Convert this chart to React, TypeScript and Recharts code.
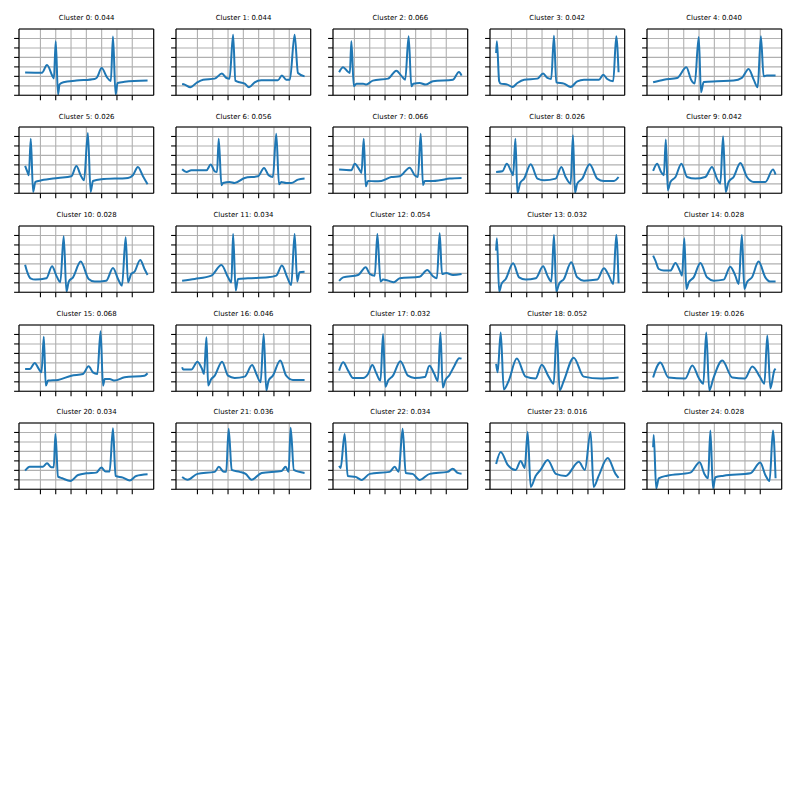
import React from 'react';
import { LineChart, Line, XAxis, YAxis, CartesianGrid } from 'recharts';

type Pt = [number, number];

// share of each cluster (title number)
const shares = [
  0.044, 0.044, 0.066, 0.042, 0.04,
  0.026, 0.056, 0.066, 0.026, 0.042,
  0.028, 0.034, 0.054, 0.032, 0.028,
  0.068, 0.046, 0.032, 0.052, 0.026,
  0.034, 0.036, 0.034, 0.016, 0.028,
];

// waveforms in grid units (x: 0..8, y: 0..7)
const c0: Pt[] = [[0,2.4],[1.1,2.38],[1.43,3.2],[1.78,2.05],[1.88,1.78],[2.0,5.7],[2.15,0.07],[2.25,1.15],[2.5,1.37],[3.35,1.55],[4.54,1.73],[4.7,1.9],[5.0,2.88],[5.35,1.9],[5.6,1.5],[5.74,6.22],[5.91,0.07],[6.04,1.3],[6.5,1.42],[8.0,1.55]];
const c1: Pt[] = [[0,1.2],[0.17,1.13],[0.54,0.85],[0.93,1.3],[1.37,1.65],[2.13,1.76],[2.6,2.29],[2.9,1.83],[3.1,1.76],[3.33,6.4],[3.48,1.55],[3.76,1.37],[4.09,1.23],[4.37,0.85],[4.74,1.37],[5.17,1.58],[6.26,1.58],[6.52,2.1],[6.8,1.65],[7.04,1.65],[7.35,6.4],[7.57,2.36],[8.0,2.0]];
const c2: Pt[] = [[0,2.43],[0.26,2.96],[0.54,2.54],[0.7,2.36],[0.8,5.7],[0.96,0.95],[1.13,1.23],[1.57,1.23],[1.78,1.13],[2.2,1.55],[3.2,1.76],[3.74,2.6],[4.07,2.05],[4.32,1.65],[4.54,6.23],[4.72,0.95],[4.85,1.23],[5.26,1.3],[5.65,1.13],[6.13,1.48],[7.44,1.65],[7.83,2.46],[8.0,2.08]];
const c3: Pt[] = [[0,4.47],[0.05,5.7],[0.2,1.48],[0.3,1.23],[0.74,1.13],[1.07,0.88],[1.39,1.3],[1.83,1.65],[2.7,1.76],[3.07,2.29],[3.35,1.83],[3.6,1.72],[3.78,6.3],[3.93,1.37],[4.43,1.23],[4.87,0.88],[5.3,1.48],[5.74,1.65],[6.72,1.65],[7.0,2.18],[7.26,1.72],[7.65,1.48],[7.85,6.23],[8.0,2.43]];
const c4: Pt[] = [[0,1.37],[0.7,1.65],[1.57,1.83],[2.17,2.96],[2.48,1.65],[2.72,1.25],[2.98,6.16],[3.13,0.32],[3.3,1.4],[4.17,1.48],[5.26,1.55],[5.8,1.83],[6.24,2.78],[6.57,1.65],[6.83,0.85],[7.04,6.23],[7.22,2.0],[7.43,2.1],[8.0,2.08]];
const c5: Pt[] = [[0,2.89],[0.15,2.25],[0.24,1.9],[0.37,5.77],[0.52,0.14],[0.67,1.2],[1.07,1.37],[2.15,1.62],[3.02,1.8],[3.35,2.89],[3.63,1.9],[3.85,1.37],[4.1,6.37],[4.28,0.14],[4.43,1.3],[4.98,1.48],[6.72,1.62],[7.04,1.9],[7.37,2.78],[7.7,1.8],[8.0,0.95]];
const c6: Pt[] = [[0,2.54],[0.28,2.25],[0.6,2.43],[1.59,2.43],[1.87,3.03],[2.13,2.32],[2.28,2.25],[2.39,5.77],[2.57,0.85],[2.67,1.09],[3.11,1.2],[3.43,1.09],[4.09,1.62],[4.96,1.8],[5.35,2.68],[5.65,1.9],[5.93,1.72],[6.15,6.3],[6.33,0.95],[6.48,1.2],[6.8,1.09],[7.13,1.09],[7.57,1.44],[8.0,1.55]];
const c7: Pt[] = [[0,2.5],[0.8,2.43],[1.02,3.13],[1.35,2.43],[1.46,2.15],[1.61,5.77],[1.74,0.74],[1.89,1.3],[2.33,1.27],[2.76,1.3],[3.41,1.72],[3.96,1.8],[4.61,2.71],[4.94,1.9],[5.15,1.72],[5.33,6.3],[5.48,0.85],[5.59,1.3],[6.13,1.3],[6.57,1.37],[7.22,1.55],[8.0,1.62]];
const c8: Pt[] = [[0,2.25],[0.41,2.32],[0.7,3.13],[1.0,2.25],[1.11,1.9],[1.26,5.77],[1.39,0.04],[1.57,1.09],[1.83,1.55],[2.26,3.06],[2.7,1.55],[3.13,1.37],[3.89,1.55],[4.26,2.78],[4.54,1.72],[4.87,1.02],[5.02,6.13],[5.15,0.04],[5.3,1.02],[5.63,1.55],[6.11,3.06],[6.61,1.55],[7.04,1.3],[7.7,1.3],[8.0,1.72]];
const c9: Pt[] = [[0,2.36],[0.26,3.13],[0.52,2.25],[0.7,1.9],[0.83,5.67],[0.96,0.32],[1.13,1.2],[1.46,1.72],[1.85,3.13],[2.22,1.72],[2.76,1.55],[3.41,1.72],[3.85,2.78],[4.17,1.55],[4.39,1.02],[4.57,6.02],[4.74,0.14],[4.93,1.2],[5.26,1.72],[5.7,3.2],[6.13,1.72],[6.57,1.2],[7.33,1.2],[7.83,2.5],[8.0,1.97]];
const c10: Pt[] = [[0,2.92],[0.13,2.18],[0.35,1.48],[0.67,1.34],[1.39,1.48],[1.76,2.75],[2.04,1.76],[2.3,1.06],[2.52,5.92],[2.7,0.07],[2.85,1.13],[3.13,1.58],[3.63,3.24],[4.15,1.41],[4.54,1.13],[5.3,1.23],[5.74,2.57],[6.07,1.41],[6.33,0.7],[6.57,5.81],[6.72,1.06],[6.93,1.94],[7.15,2.18],[7.52,3.42],[7.8,2.46],[8.0,1.83]];
const c11: Pt[] = [[0,1.23],[0.83,1.41],[1.91,1.76],[2.57,2.89],[3.0,1.58],[3.22,1.06],[3.33,6.16],[3.5,0.18],[3.65,1.41],[4.3,1.48],[5.61,1.58],[6.15,1.76],[6.52,2.82],[6.87,1.58],[7.13,0.77],[7.35,6.16],[7.52,1.13],[7.67,2.11],[8.0,2.18]];
const c12: Pt[] = [[0,1.2],[0.26,1.58],[1.24,1.83],[1.74,2.64],[2.0,1.94],[2.33,1.76],[2.5,6.16],[2.7,1.13],[2.87,1.34],[3.2,1.23],[3.57,1.06],[3.96,1.48],[5.26,1.65],[5.76,2.36],[6.13,1.69],[6.39,1.48],[6.57,6.23],[6.72,1.94],[7.0,2.04],[7.44,1.83],[8.0,1.94]];
const c13: Pt[] = [[0,4.4],[0.05,5.7],[0.2,0.05],[0.35,0.88],[0.63,1.41],[1.11,3.06],[1.5,1.58],[1.93,1.34],[2.59,1.48],[3.07,2.75],[3.35,1.76],[3.61,1.13],[3.78,6.06],[3.93,0.05],[4.11,0.88],[4.43,1.41],[4.91,3.17],[5.3,1.58],[5.74,1.23],[6.61,1.34],[7.04,2.54],[7.37,1.76],[7.65,0.88],[7.85,6.06],[8.0,0.95]];
const c14: Pt[] = [[0,3.87],[0.15,3.34],[0.37,2.46],[0.7,2.29],[1.13,2.29],[1.46,3.1],[1.74,2.29],[1.89,1.76],[2.04,5.7],[2.17,0.35],[2.33,1.06],[2.65,1.58],[3.09,3.1],[3.52,1.58],[3.96,1.23],[4.61,1.34],[5.04,2.71],[5.37,1.76],[5.59,0.88],[5.8,6.06],[5.96,0.35],[6.13,1.06],[6.46,1.58],[6.89,3.24],[7.33,1.58],[7.65,1.13],[8.0,1.13]];
const c15: Pt[] = [[0,2.36],[0.3,2.36],[0.63,3.0],[0.89,2.36],[1.07,2.0],[1.22,5.77],[1.35,0.6],[1.5,1.13],[2.15,1.2],[3.02,1.65],[3.78,1.83],[4.15,2.64],[4.43,2.0],[4.72,1.83],[4.93,6.34],[5.09,0.6],[5.2,1.3],[5.52,1.3],[5.85,1.13],[6.5,1.48],[7.8,1.65],[8.0,1.9]];
const c16: Pt[] = [[0,2.54],[0.07,2.29],[0.6,2.29],[1.0,3.13],[1.3,2.36],[1.43,1.83],[1.59,5.7],[1.7,0.6],[1.87,1.2],[2.13,1.65],[2.61,3.13],[3.0,1.65],[3.43,1.41],[4.09,1.55],[4.57,2.78],[4.85,1.83],[5.13,0.95],[5.33,6.06],[5.5,0.07],[5.65,1.13],[5.93,1.65],[6.41,3.24],[6.8,1.65],[7.24,1.2],[8.0,1.2]];
const c17: Pt[] = [[0,2.18],[0.26,3.06],[0.59,2.18],[0.91,1.41],[1.57,1.41],[1.89,1.83],[2.17,2.78],[2.43,1.9],[2.7,1.13],[2.87,6.06],[3.02,0.49],[3.2,1.13],[3.52,1.65],[4.0,3.17],[4.5,1.65],[4.93,1.41],[5.6,1.5],[5.9,2.7],[6.2,1.9],[6.45,1.1],[6.62,6.2],[6.77,0.4],[6.95,1.2],[7.2,1.7],[7.5,2.6],[7.85,3.5],[8.0,3.45]];
const c18: Pt[] = [[0,2.9],[0.1,2.0],[0.3,6.2],[0.5,0.2],[0.82,1.1],[1.35,3.45],[1.93,1.55],[2.58,1.35],[2.98,2.8],[3.43,1.55],[3.76,0.8],[3.96,6.4],[4.15,0.1],[4.42,1.1],[5.07,3.55],[5.72,1.55],[6.83,1.35],[8.0,1.45]];
const c19: Pt[] = [[0,1.46],[0.47,3.04],[1.0,1.46],[2.1,1.35],[2.56,2.72],[3.0,1.35],[3.28,0.8],[3.47,6.2],[3.67,0.1],[3.93,1.35],[4.52,3.25],[5.17,1.46],[6.0,1.35],[6.48,2.62],[7.0,1.46],[7.27,0.8],[7.46,5.9],[7.66,0.3],[7.92,2.2],[8.0,2.4]];
const c20: Pt[] = [[0,1.97],[0.3,2.39],[1.17,2.39],[1.43,2.75],[1.72,2.32],[1.87,2.32],[1.98,5.85],[2.15,1.34],[2.43,1.16],[2.96,0.88],[3.46,1.51],[4.0,1.69],[4.65,1.76],[4.98,2.29],[5.26,1.87],[5.52,1.87],[5.74,6.44],[5.91,1.41],[6.39,1.23],[6.83,0.92],[7.26,1.41],[8.0,1.58]];
const c21: Pt[] = [[0,1.3],[0.36,1.0],[1.0,1.63],[2.13,1.84],[2.4,2.37],[2.72,1.84],[2.88,1.84],[3.04,6.4],[3.24,2.05],[3.76,1.84],[4.15,1.63],[4.54,1.0],[5.2,1.73],[6.5,1.94],[6.76,2.37],[6.96,1.84],[7.09,6.5],[7.3,2.05],[8.0,1.73]];
const c22: Pt[] = [[0,2.47],[0.1,2.26],[0.36,5.85],[0.56,1.41],[1.08,1.31],[1.47,0.99],[2.0,1.63],[3.3,1.84],[3.63,2.37],[3.89,1.84],[4.15,6.38],[4.35,1.73],[4.8,1.63],[5.26,0.99],[5.92,1.63],[7.09,1.84],[7.42,2.16],[7.75,1.73],[8.0,1.63]];
const c23: Pt[] = [[0,2.68],[0.3,3.95],[0.76,2.58],[1.28,2.05],[1.6,3.0],[1.87,2.26],[2.06,6.06],[2.26,0.25],[2.58,1.41],[2.9,2.05],[3.37,3.1],[3.9,1.63],[4.55,1.41],[5.4,2.9],[5.8,2.05],[6.17,6.06],[6.37,0.25],[6.7,1.41],[7.29,3.3],[7.8,1.63],[8.0,1.2]];
const c24: Pt[] = [[0,4.44],[0.04,5.74],[0.2,0.1],[0.37,1.16],[0.91,1.44],[2.43,1.76],[3.04,2.85],[3.35,1.62],[3.59,1.16],[3.74,6.2],[3.91,0.1],[4.07,1.27],[4.61,1.44],[6.35,1.69],[7.0,2.82],[7.33,1.51],[7.61,0.88],[7.83,6.2],[8.0,1.16]];

const clusters = [c0, c1, c2, c3, c4, c5, c6, c7, c8, c9, c10, c11, c12, c13, c14, c15, c16, c17, c18, c19, c20, c21, c22, c23, c24];

const xTicks = [1, 2, 3, 4, 5, 6, 7];
const yTicks = [0, 1, 2, 3, 4, 5, 6];

// panel geometry (px)
const BOX_W = 134.7;
const BOX_H = 66.3;
const COL0 = 19.3;
const COL_STEP = 156.85;
const ROW0 = 28.7;
const ROW_STEP = 98.6;
const PAD = 8;
// axes take 1px each, margins make up the rest of PAD
const M = { top: PAD - 1, right: PAD - 1, bottom: PAD - 1, left: PAD - 1 };

const spine = { stroke: '#000', strokeWidth: 1.1 };
// tick marks only, no labels
const NoLabel = () => <g />;

const Panel = ({ idx }: { idx: number }) => {
  const r = Math.floor(idx / 5);
  const c = idx % 5;
  const left = COL0 + c * COL_STEP;
  const top = ROW0 + r * ROW_STEP;
  const data = clusters[idx].map(([x, y]) => ({ x, y }));
  return (
    <>
      <div
        style={{
          position: 'absolute', left, top: top - 14.8, width: BOX_W,
          textAlign: 'center', fontSize: 6.94, fontFamily: 'DejaVu Sans',
          whiteSpace: 'nowrap', color: '#000',
        }}
      >
        Cluster {idx}: {shares[idx].toFixed(3)}
      </div>
      <div style={{ position: 'absolute', left: left - PAD, top: top - PAD }}>
        <LineChart width={BOX_W + 2 * PAD} height={BOX_H + 2 * PAD} data={data} margin={M}>
          <CartesianGrid stroke="#b0b0b0" strokeWidth={1.1} />
          <XAxis dataKey="x" type="number" domain={[-0.4, 8.4]} ticks={xTicks} tick={NoLabel} interval={0}
            tickSize={4.9} height={1} axisLine={spine} tickLine={spine} allowDataOverflow />
          <YAxis type="number" domain={[0, 7]} ticks={yTicks} tick={NoLabel} interval={0}
            tickSize={4.9} width={1} axisLine={spine} tickLine={spine} allowDataOverflow />
          <Line type="monotone" dataKey="y" stroke="#1f77b4" strokeWidth={2} dot={false}
            strokeLinejoin="round" isAnimationActive={false} />
          <XAxis xAxisId="top" orientation="top" dataKey="x" type="number" domain={[-0.4, 8.4]}
            height={1} tick={false} tickLine={false} axisLine={spine} />
          <YAxis yAxisId="right" orientation="right" type="number" domain={[0, 7]}
            width={1} tick={false} tickLine={false} axisLine={spine} />
        </LineChart>
      </div>
    </>
  );
};

export default function App() {
  return (
    <div style={{ position: 'absolute', left: 0, top: 0, width: 800, height: 800, background: '#fff' }}>
      {clusters.map((_, i) => (
        <Panel key={i} idx={i} />
      ))}
    </div>
  );
}
